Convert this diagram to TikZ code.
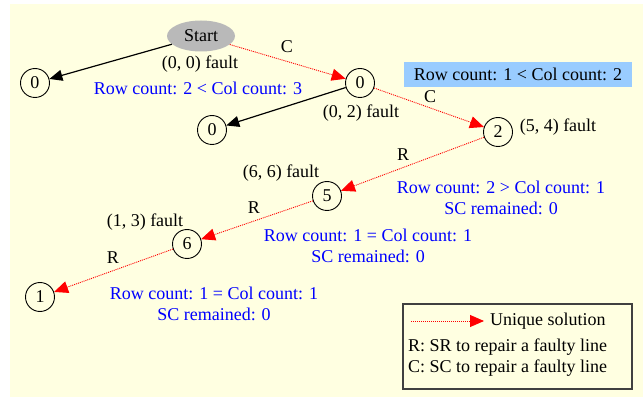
\documentclass[tikz,border=0pt]{standalone}
\usepackage{fontspec}
\setmainfont{Liberation Serif}
\usetikzlibrary{arrows.meta,shapes.geometric}
\definecolor{yellowbg}{HTML}{FFFFE1}
\definecolor{boxblue}{HTML}{99CCFF}
\definecolor{legendgray}{HTML}{404040}
\begin{document}
\begin{tikzpicture}[x=1pt,y=-1pt,
  every node/.style={font=\fontsize{18}{21}\selectfont, inner sep=0pt},
  num/.style={circle, draw, line width=0.9pt, minimum size=29pt, inner sep=0pt},
  solidarr/.style={line width=1.2pt, -{Triangle[length=13pt,width=11pt]}},
  redarr/.style={red, line width=0.9pt, dash pattern=on 1pt off 1pt, -{Triangle[length=14pt,width=12pt]}},
  bluetxt/.style={text=blue, align=center},
]
\useasboundingbox (0,0) rectangle (643,398);
\fill[yellowbg] (10,4) rectangle (643,397);

% nodes
\node[ellipse, fill=gray!55, minimum width=68pt, minimum height=31pt] (start) at (201,36) {Start};
\node[num] (a0) at (35,83) {0};
\node[num] (b0) at (360,83) {0};
\node[num] (c0) at (212,130) {0};
\node[num] (n2) at (498,132) {2};
\node[num] (n5) at (327,196) {5};
\node[num] (n6) at (187,244) {6};
\node[num] (n1) at (40,297) {1};

% edges
\draw[solidarr] (start) -- (a0);
\draw[redarr] (start) -- (b0);
\draw[solidarr] (b0) -- (c0);
\draw[redarr] (b0) -- (n2);
\draw[redarr] (n2) -- (n5);
\draw[redarr] (n5) -- (n6);
\draw[redarr] (n6) -- (n1);

% edge labels
\node (lc1) at (287,47) {C};
\node (lc2) at (430,97) {C};
\node (lr1) at (403,155) {R};
\node (lr2) at (254,208) {R};
\node (lr3) at (113,258) {R};

% fault labels
\node (f00) at (200,64) {(0, 0) fault};
\node (f02) at (361,113) {(0, 2) fault};
\node (f54) at (558,127) {(5, 4) fault};
\node (f66) at (281,173) {(6, 6) fault};
\node (f13) at (145,222) {(1, 3) fault};

% blue texts
\node[bluetxt] (t1) at (198,88) {Row count: 2 {\char`\<} Col count: 3};
\node[fill=boxblue, minimum width=228pt, minimum height=25pt] (t2) at (518,74.5) {Row count: 1 {\char`\<} Col count: 2};
\node[bluetxt] (t3) at (501,197.5) {Row count: 2 {\char`\>} Col count: 1\\SC remained: 0};
\node[bluetxt] (t4) at (368,246) {Row count: 1 = Col count: 1\\SC remained: 0};
\node[bluetxt] (t5) at (214,303.5) {Row count: 1 = Col count: 1\\SC remained: 0};

% legend
\draw[legendgray, line width=1.5pt] (403,304) rectangle (632,389);
\coordinate (ls) at (411,321);
\coordinate (le) at (484,321);
\draw[redarr] (ls) -- (le);
\node[anchor=west] (lu) at (490,321) {Unique solution};
\node[anchor=west] (lrr) at (408,347) {R: SR to repair a faulty line};
\node[anchor=west] (lcc) at (408,368) {C: SC to repair a faulty line};
\end{tikzpicture}
\end{document}
